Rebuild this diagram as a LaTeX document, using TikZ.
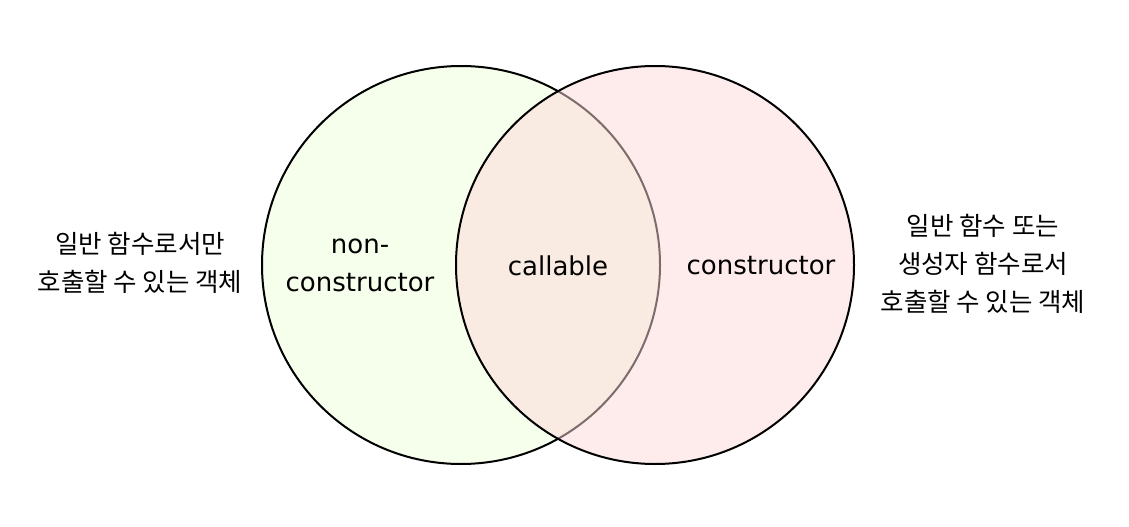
\documentclass[tikz,border=0pt]{standalone}
\usepackage{fontspec}
\setmainfont{DejaVu Sans}
\newfontfamily\krfont{Noto Sans CJK KR}
\definecolor{lgreen}{RGB}{246,254,236}
\definecolor{lpink}{RGB}{253,217,218}
\tikzset{
  venn/.style={circle, draw=black, line width=2pt, inner sep=0pt, minimum size=398pt},
  lbl/.style={font=\fontsize{26}{38}\selectfont, align=center, inner sep=0pt},
  kr/.style={font=\krfont\fontsize{25.5}{38}\selectfont, align=center, inner sep=0pt},
}
\begin{document}
\begin{tikzpicture}[x=1pt,y=1pt]
\useasboundingbox (0,0) rectangle (1129,-527);
\node[venn, fill=lgreen] (L) at (461,-265) {};
\node[venn, fill=lpink, fill opacity=0.5, draw opacity=1] (R) at (655,-265) {};
\node[lbl] (non) at (360,-265) {non-\\constructor};
\node[lbl] (call) at (558,-266) {callable};
\node[lbl] (cons) at (761,-266) {constructor};
\node[kr] (lt) at (140,-263) {일반 함수로서만\\호출할 수 있는 객체};
\node[kr] (rt) at (983,-264) {일반 함수 또는\\생성자 함수로서\\호출할 수 있는 객체};
\end{tikzpicture}
\end{document}
